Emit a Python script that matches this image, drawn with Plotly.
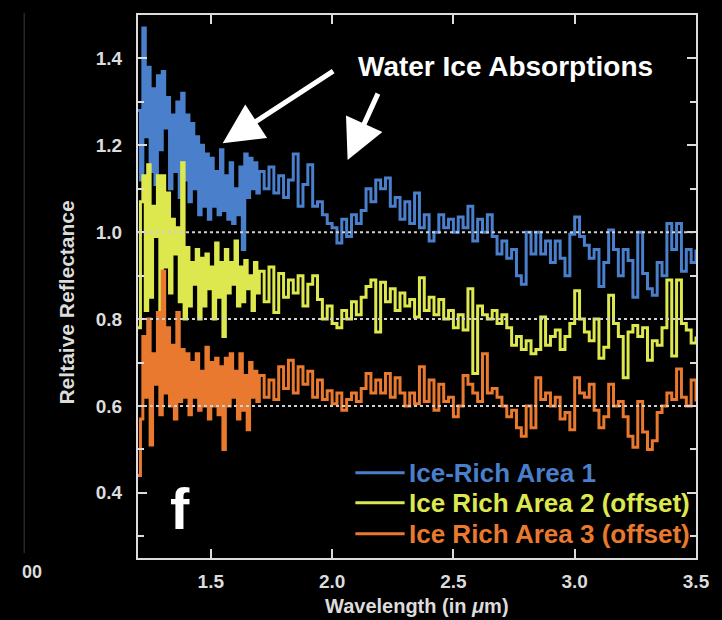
import plotly.graph_objects as go

# Spectral channel wavelengths (micrometres): 0.01 spacing below 1.7, 0.02 above
wavelength = [
    1.20, 1.21, 1.22, 1.23, 1.24, 1.25, 1.26, 1.27, 1.28, 1.29,
    1.30, 1.31, 1.32, 1.33, 1.34, 1.35, 1.36, 1.37, 1.38, 1.39,
    1.40, 1.41, 1.42, 1.43, 1.44, 1.45, 1.46, 1.47, 1.48, 1.49,
    1.50, 1.51, 1.52, 1.53, 1.54, 1.55, 1.56, 1.57, 1.58, 1.59,
    1.60, 1.61, 1.62, 1.63, 1.64, 1.65, 1.66, 1.67, 1.68, 1.69,
    1.70, 1.72, 1.74, 1.76, 1.78, 1.80, 1.82, 1.84, 1.86, 1.88,
    1.90, 1.92, 1.94, 1.96, 1.98, 2.00, 2.02, 2.04, 2.06, 2.08,
    2.10, 2.12, 2.14, 2.16, 2.18, 2.20, 2.22, 2.24, 2.26, 2.28,
    2.30, 2.32, 2.34, 2.36, 2.38, 2.40, 2.42, 2.44, 2.46, 2.48,
    2.50, 2.52, 2.54, 2.56, 2.58, 2.60, 2.62, 2.64, 2.66, 2.68,
    2.70, 2.72, 2.74, 2.76, 2.78, 2.80, 2.82, 2.84, 2.86, 2.88,
    2.90, 2.92, 2.94, 2.96, 2.98, 3.00, 3.02, 3.04, 3.06, 3.08,
    3.10, 3.12, 3.14, 3.16, 3.18, 3.20, 3.22, 3.24, 3.26, 3.28,
    3.30, 3.32, 3.34, 3.36, 3.38, 3.40, 3.42, 3.44, 3.46, 3.48,
    3.50,
]

area1 = [
    1.28, 1.12, 1.47, 1.22, 1.38, 1.14, 1.33, 1.11, 1.36, 1.19,
    1.37, 1.24, 1.31, 1.10, 1.27, 1.14, 1.30, 1.08, 1.32, 1.12,
    1.27, 1.07, 1.25, 1.10, 1.22, 1.04, 1.20, 1.06, 1.18, 1.03,
    1.17, 1.06, 1.14, 1.04, 1.19, 1.05, 1.13, 1.03, 1.16, 1.02,
    1.10, 1.04, 1.15, 0.96, 1.18, 1.08, 1.17, 1.10, 1.16, 1.09,
    1.14, 1.10, 1.15, 1.09, 1.13, 1.08, 1.12, 1.18, 1.06, 1.11,
    1.155, 1.06, 1.07, 1.04, 1.02, 1.01, 0.975, 1.03, 0.99, 1.04,
    1.02, 1.05, 1.10, 1.07, 1.12, 1.10, 1.125, 1.06, 1.08, 1.03,
    1.07, 1.02, 1.09, 1.01, 1.04, 0.98, 1.00, 1.04, 1.01, 1.03,
    1.00, 1.035, 1.01, 1.06, 0.98, 1.03, 1.00, 1.04, 0.99, 0.95,
    0.98, 0.94, 0.96, 0.90, 0.88, 1.00, 0.95, 1.00, 0.95, 0.98,
    0.93, 0.98, 0.94, 0.90, 0.995, 1.035, 0.99, 0.97, 0.94, 0.96,
    0.875, 0.93, 1.005, 0.96, 0.90, 0.96, 0.935, 0.85, 1.00, 0.905,
    0.87, 0.855, 0.93, 0.90, 1.02, 0.96, 1.02, 0.91, 0.96, 0.93,
    0.96,
]

area2_offset = [
    0.78, 1.07, 1.13, 0.82, 1.155, 0.85, 1.06, 0.99, 1.13, 0.82,
    1.13, 0.92, 1.09, 0.86, 1.03, 0.95, 1.01, 0.84, 1.16, 0.80,
    0.965, 0.83, 0.93, 0.88, 0.96, 0.80, 0.94, 0.83, 0.95, 0.87,
    0.92, 0.80, 0.975, 0.85, 0.93, 0.76, 0.96, 0.86, 0.93, 0.88,
    0.98, 0.83, 0.92, 0.84, 0.935, 0.87, 0.90, 0.82, 0.93, 0.86,
    0.91, 0.84, 0.92, 0.815, 0.905, 0.85, 0.89, 0.86, 0.90, 0.83,
    0.88, 0.90, 0.845, 0.80, 0.83, 0.79, 0.78, 0.82, 0.80, 0.84,
    0.81, 0.85, 0.875, 0.89, 0.77, 0.885, 0.84, 0.87, 0.82, 0.86,
    0.83, 0.845, 0.805, 0.895, 0.82, 0.85, 0.81, 0.845, 0.80, 0.82,
    0.78, 0.81, 0.775, 0.87, 0.675, 0.83, 0.81, 0.80, 0.82, 0.79,
    0.81, 0.78, 0.74, 0.76, 0.73, 0.75, 0.72, 0.73, 0.805, 0.74,
    0.76, 0.775, 0.73, 0.76, 0.79, 0.865, 0.80, 0.77, 0.75, 0.80,
    0.71, 0.735, 0.855, 0.79, 0.76, 0.665, 0.77, 0.785, 0.76, 0.78,
    0.705, 0.75, 0.74, 0.78, 0.89, 0.715, 0.89, 0.79, 0.775, 0.745,
    0.76,
]

area3_offset = [
    0.44, 0.57, 0.76, 0.62, 0.80, 0.51, 0.72, 0.65, 0.815, 0.58,
    0.91, 0.63, 0.78, 0.60, 0.74, 0.57, 0.815, 0.61, 0.73, 0.62,
    0.72, 0.58, 0.70, 0.62, 0.72, 0.59, 0.68, 0.60, 0.735, 0.57,
    0.70, 0.60, 0.71, 0.58, 0.69, 0.50, 0.71, 0.60, 0.72, 0.62,
    0.68, 0.57, 0.72, 0.59, 0.67, 0.545, 0.70, 0.62, 0.68, 0.61,
    0.67, 0.62, 0.66, 0.615, 0.69, 0.64, 0.705, 0.63, 0.69, 0.65,
    0.68, 0.62, 0.66, 0.615, 0.635, 0.605, 0.63, 0.59, 0.615, 0.63,
    0.61, 0.64, 0.675, 0.63, 0.66, 0.63, 0.675, 0.62, 0.665, 0.63,
    0.60, 0.63, 0.605, 0.69, 0.61, 0.66, 0.59, 0.65, 0.61, 0.62,
    0.575, 0.60, 0.67, 0.65, 0.63, 0.61, 0.72, 0.63, 0.64, 0.62,
    0.60, 0.575, 0.59, 0.55, 0.53, 0.60, 0.55, 0.665, 0.615, 0.63,
    0.60, 0.62, 0.57, 0.585, 0.545, 0.665, 0.63, 0.62, 0.65, 0.59,
    0.55, 0.575, 0.65, 0.60, 0.61, 0.575, 0.53, 0.505, 0.61, 0.54,
    0.50, 0.52, 0.585, 0.60, 0.63, 0.615, 0.685, 0.62, 0.60, 0.66,
    0.61,
]

series_names = ["Ice-Rich Area 1", "Ice Rich Area 2 (offset)", "Ice Rich Area 3 (offset)"]
series_colors = ["#4a7fcb", "#dde84e", "#e8792e"]
series_values = [area1, area2_offset, area3_offset]

guide_levels = [1.0, 0.8, 0.6]
x_ticks = [1.5, 2.0, 2.5, 3.0, 3.5]
y_ticks = [0.4, 0.6, 0.8, 1.0, 1.2, 1.4]

FONT = "Liberation Sans, Arial, Helvetica, sans-serif"
AXIS_GREY = "#dcdcdc"

fig = go.Figure()
for name, color, vals in zip(series_names, series_colors, series_values):
    fig.add_trace(go.Scatter(
        x=wavelength, y=vals, mode="lines", name=name,
        line=dict(color=color, width=3, shape="hv"),
        showlegend=False,
    ))

# dotted reference levels across the panel
for lvl in guide_levels:
    fig.add_shape(type="line", xref="x domain", yref="y", x0=0, x1=1, y0=lvl, y1=lvl,
                  line=dict(color="#d0d0d0", width=2, dash="dot"), layer="above")

# legend drawn inside the panel: coloured line sample + coloured label
legend_rows = [0.446, 0.377, 0.306]
for name, color, ly in zip(series_names, series_colors, legend_rows):
    fig.add_shape(type="line", xref="x", yref="y", x0=2.096, x1=2.299, y0=ly, y1=ly,
                  line=dict(color=color, width=3))
    fig.add_annotation(x=2.31, y=ly, xref="x", yref="y", text=name, showarrow=False,
                       xanchor="left", yanchor="middle",
                       font=dict(family=FONT, size=26, color=color, weight="bold"))

# panel letter
fig.add_annotation(x=1.374, y=0.363, xref="x", yref="y", text="f", showarrow=False,
                   font=dict(family=FONT, size=58, color="white", weight="bold"))

# absorption call-out with arrows
fig.add_annotation(x=2.713, y=1.382, xref="x", yref="y", text="Water Ice Absorptions",
                   showarrow=False, font=dict(family=FONT, size=28, color="white", weight="bold"))
fig.add_annotation(x=1.549, y=1.205, xref="x", yref="y", ax=112, ay=-73, text="",
                   showarrow=True, arrowhead=2, arrowsize=1.6, arrowwidth=5, arrowcolor="white")
fig.add_annotation(x=2.064, y=1.166, xref="x", yref="y", ax=31, ay=-68, text="",
                   showarrow=True, arrowhead=2, arrowsize=1.6, arrowwidth=5, arrowcolor="white")

# axis titles
fig.add_annotation(x=-0.1285, y=0.471, xref="paper", yref="paper", text="Reltaive Reflectance",
                   textangle=-90, showarrow=False, xanchor="center", yanchor="middle",
                   font=dict(family=FONT, size=21, color=AXIS_GREY, weight="bold"))
fig.add_annotation(x=0.5, y=-0.088, xref="paper", yref="paper", text="Wavelength (in <i>μ</i>m)",
                   showarrow=False, xanchor="center", yanchor="middle",
                   font=dict(family=FONT, size=20, color=AXIS_GREY, weight="bold"))

# neighbouring panel edge on the far left
fig.add_shape(type="line", xref="paper", yref="paper", x0=-0.204, x1=-0.204, y0=0.009, y1=1.004,
              line=dict(color="#3a3a3a", width=1))
fig.add_annotation(x=-0.169, y=-0.026, xref="paper", yref="paper", text="00", showarrow=False,
                   xanchor="right", yanchor="middle",
                   font=dict(family=FONT, size=18, color=AXIS_GREY, weight="bold"))

fig.update_xaxes(
    range=[1.2, 3.5], tickvals=x_ticks, ticktext=[f"{v:.1f}" for v in x_ticks],
    showgrid=False, zeroline=False, showline=True, linecolor=AXIS_GREY, linewidth=2,
    mirror="ticks", ticks="inside", ticklen=9, tickwidth=2, tickcolor=AXIS_GREY,
    tickfont=dict(family=FONT, size=19, color=AXIS_GREY, weight="bold"),
    ticklabelstandoff=5,
)
fig.update_yaxes(
    range=[0.25, 1.5], tickvals=y_ticks, ticktext=[f"{v:.1f}" for v in y_ticks],
    showgrid=False, zeroline=False, showline=True, linecolor=AXIS_GREY, linewidth=2,
    mirror="ticks", ticks="inside", ticklen=9, tickwidth=2, tickcolor=AXIS_GREY,
    minor=dict(dtick=0.1, tick0=0.3, ticks="inside", ticklen=6, tickwidth=2,
               tickcolor=AXIS_GREY, showgrid=False),
    tickfont=dict(family=FONT, size=19, color=AXIS_GREY, weight="bold"),
    ticklabelstandoff=10,
)

fig.update_layout(
    width=722, height=620,
    margin=dict(l=138, r=16, t=15, b=62),
    paper_bgcolor="black", plot_bgcolor="black",
    showlegend=False,
)

fig.write_html("out.html")
